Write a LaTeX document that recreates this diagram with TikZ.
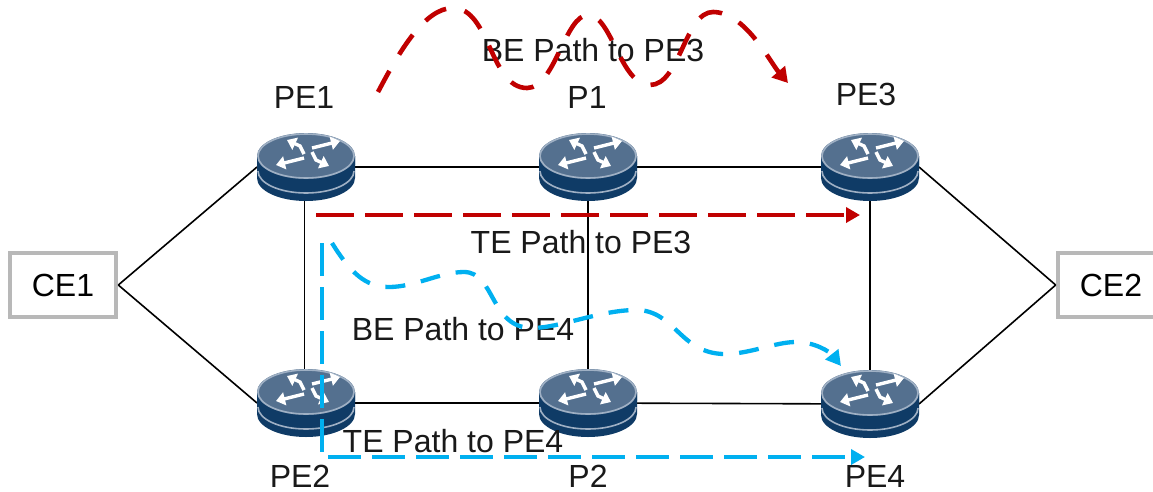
\documentclass[tikz,border=0pt]{standalone}
\usepackage{fontspec}
\setmainfont{Liberation Sans}
\usetikzlibrary{arrows.meta}
\definecolor{rtop}{HTML}{54708F}
\definecolor{rrim}{HTML}{9FB0C4}
\definecolor{rbody}{HTML}{0F3B66}
\definecolor{redpath}{HTML}{C00000}
\definecolor{bluepath}{HTML}{00B0F0}
\tikzset{
 x=1pt,y=-1pt,
 anchorbox/.style={minimum width=98pt,minimum height=66pt,inner sep=0pt,outer sep=0pt},
 link/.style={black,line width=1.6pt},
 cebox/.style={draw=black!28,line width=4.6pt,minimum width=106pt,minimum height=64pt,inner sep=0pt,font=\lab},
 lbl/.style={font=\lab,inner sep=0pt,text=black!90},
 redp/.style={redpath,line width=4.6pt,dash pattern=on 24pt off 19pt,-{Triangle[length=15pt,width=17pt]}},
 redt/.style={redpath,line width=3.6pt,dash pattern=on 38pt off 11pt,-{Triangle[length=14pt,width=15pt]}},
 blup/.style={bluepath,line width=4.3pt,dash pattern=on 20pt off 16pt,-{Triangle[length=15pt,width=16pt]}},
 blut/.style={bluepath,line width=3.6pt,dash pattern=on 33pt off 11pt,-{Triangle[length=14pt,width=15pt]}},
 icon/.style={white,line width=3.4pt,-{Triangle[length=9pt,width=13pt]}},
}
\newcommand\lab{\fontsize{32}{36}\selectfont}
\newcommand\routerart[1]{%
 \begin{scope}[shift={(#1)}]
  \fill[rbody] (-49,-11) -- (-49,11) arc[x radius=49,y radius=23,start angle=180,end angle=0] -- (49,-11) -- cycle;
  \draw[rrim,line width=1.6pt] (-48,4) arc[x radius=48,y radius=22,start angle=180,end angle=0];
  \fill[rbody] (-49,-11) -- (-49,-2) arc[x radius=49,y radius=22,start angle=180,end angle=0] -- (49,-11) -- cycle;
  \fill[rtop] (0,-11) ellipse[x radius=49,y radius=23];
  \draw[rrim,line width=1.6pt] (0,-11) ellipse[x radius=48,y radius=22];
  \begin{scope}[shift={(2,-14)}]
   \draw[icon] (4,-5) -- (32,-12);
   \draw[icon] (-4,5) -- (-32,12);
   \draw[icon] (-4,1) -- (-8,-7) -- (-21,-13);
   \draw[icon] (4,-1) -- (8,7) -- (21,13);
  \end{scope}
 \end{scope}}
\begin{document}
\begin{tikzpicture}
\useasboundingbox (0,0) rectangle (1153,491);
\node[anchorbox] (pe1) at (306,167) {};
\node[anchorbox] (p1) at (588,167) {};
\node[anchorbox] (pe3) at (870,167) {};
\node[anchorbox] (pe2) at (306,403) {};
\node[anchorbox] (p2) at (588,403) {};
\node[anchorbox] (pe4) at (870,404) {};
\node[cebox] (ce1) at (63,285) {CE1};
\node[cebox] (ce2) at (1111,285) {CE2};
\draw[link] (ce1.east) -- (pe1.west);
\draw[link] (ce1.east) -- (pe2.west);
\draw[link] (ce2.west) -- (pe3.east);
\draw[link] (ce2.west) -- (pe4.east);
\draw[link] (pe1) -- (p1);
\draw[link] (p1) -- (pe3);
\draw[link] (pe2) -- (p2);
\draw[link] (p2) -- (pe4);
\draw[link] ([xshift=-1.5pt]pe1.south) -- ([xshift=-1.5pt]pe2.north);
\draw[link] (p1) -- (p2);
\draw[link] (pe3) -- (pe4);
\routerart{306,167}
\routerart{588,167}
\routerart{870,167}
\routerart{306,403}
\routerart{588,403}
\routerart{870,404}
\node[lbl] at (304,97) {PE1};
\node[lbl] at (587,97) {P1};
\node[lbl] at (866,94) {PE3};
\node[lbl] at (300,476) {PE2};
\node[lbl] at (588,476) {P2};
\node[lbl] at (875,476) {PE4};
\node[lbl] at (593,50) {BE Path to PE3};
\node[lbl] at (581,242) {TE Path to PE3};
\node[lbl] at (463,329) {BE Path to PE4};
\node[lbl] at (453,441) {TE Path to PE4};
\coordinate (rs) at (378,92);
\coordinate (re) at (788,83);
\coordinate (ts1) at (316,215);
\coordinate (te1) at (860,215);
\coordinate (bs) at (332,243);
\coordinate (be) at (841,366);
\coordinate (ts2) at (322,243);
\coordinate (tc2) at (322,457);
\coordinate (te2) at (865,457);
\draw[redp] (rs) .. controls (400,50) and (425,8) .. (453,8)
  .. controls (490,8) and (490,88) .. (527,88)
  .. controls (555,88) and (565,15) .. (588,15)
  .. controls (612,15) and (620,85) .. (650,85)
  .. controls (680,85) and (685,12) .. (713,12)
  .. controls (745,12) and (770,62) .. (re);
\draw[redt] (ts1) -- (te1);
\draw[blup] (bs) .. controls (350,272) and (365,287) .. (389,287)
  .. controls (415,287) and (440,272) .. (464,272)
  .. controls (495,272) and (490,328) .. (532,328)
  .. controls (560,328) and (600,310) .. (636,310)
  .. controls (675,310) and (680,354) .. (725,354)
  .. controls (750,354) and (775,342) .. (796,342)
  .. controls (815,342) and (830,352) .. (be);
\draw[blut] (ts2) -- (tc2) -- (te2);
\end{tikzpicture}
\end{document}
